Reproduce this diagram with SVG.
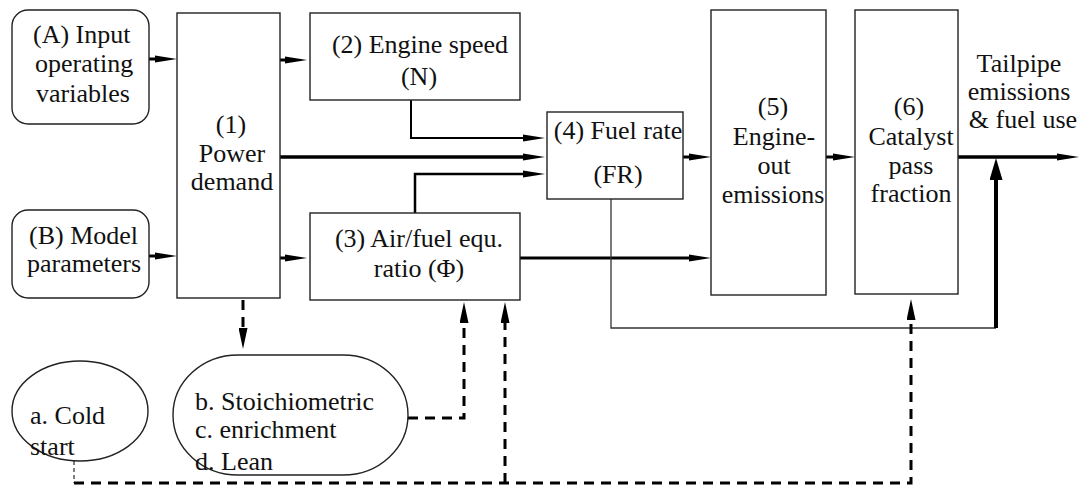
<svg xmlns="http://www.w3.org/2000/svg" width="1079" height="485" viewBox="0 0 1079 485">
<defs>
  <marker id="h" viewBox="0 0 22 8" markerWidth="22" markerHeight="8" refX="6" refY="4" markerUnits="userSpaceOnUse" orient="auto">
    <path d="M0,0.5 L22,4 L0,7.5 Z" fill="#000"/>
  </marker>
  <marker id="v" viewBox="0 0 21 9" markerWidth="21" markerHeight="9" refX="6" refY="4.5" markerUnits="userSpaceOnUse" orient="auto">
    <path d="M0,0 L21,4.5 L0,9 Z" fill="#000"/>
  </marker>
  <marker id="w" viewBox="0 0 22 13" markerWidth="22" markerHeight="13" refX="6" refY="6.5" markerUnits="userSpaceOnUse" orient="auto">
    <path d="M0,0 L22,6.5 L0,13 Z" fill="#000"/>
  </marker>
</defs>

<g id="connectors" fill="none" stroke="#000">
  <path stroke-width="3" d="M149,59 H161" marker-end="url(#h)"/>
  <path stroke-width="3" d="M280,60 H291" marker-end="url(#h)"/>
  <path stroke-width="3" d="M149,256 H161" marker-end="url(#h)"/>
  <path stroke-width="3" d="M280,258 H291" marker-end="url(#h)"/>
  <path stroke-width="2" d="M411,100 V138 H529" marker-end="url(#h)"/>
  <path stroke-width="3.5" d="M280,157 H529" marker-end="url(#h)"/>
  <path stroke-width="2.5" d="M415,213 V174 H529" marker-end="url(#h)"/>
  <path stroke-width="3" d="M683,157 H695" marker-end="url(#h)"/>
  <path stroke-width="3" d="M826,157 H839" marker-end="url(#h)"/>
  <path stroke-width="3.5" d="M958,157 H1063" marker-end="url(#h)"/>
  <path stroke-width="3" d="M520,258 H695" marker-end="url(#h)"/>
  <path stroke-width="1.3" stroke="#333" d="M611,199 V328 H996"/>
  <path stroke-width="4" d="M996,328 V174" marker-end="url(#w)"/>
  <g stroke-width="3" stroke-dasharray="10 7">
    <path d="M243,300 V334" marker-end="url(#v)"/>
    <path d="M408,418 H464 V317" marker-end="url(#v)"/>
    <path d="M74,483 H911 V314" marker-end="url(#v)"/>
    <path d="M505,483 V317" marker-end="url(#v)"/>
  </g>
  <path stroke-width="1" stroke-dasharray="4 3" d="M74,461 V483"/>
</g>

<g id="nodeA">
  <rect fill="#fff" stroke="#222" stroke-width="1.4" x="12" y="10" width="137" height="114" rx="16"/>
  <text font-family="Times New Roman" font-size="26" fill="#111" x="33" y="43">(A)  Input</text>
  <text font-family="Times New Roman" font-size="26" fill="#111" x="35" y="72">operating</text>
  <text font-family="Times New Roman" font-size="26" fill="#111" x="36" y="102">variables</text>
</g>
<g id="nodeB">
  <rect fill="#fff" stroke="#222" stroke-width="1.4" x="12" y="210" width="137" height="88" rx="16"/>
  <text font-family="Times New Roman" font-size="26" fill="#111" x="29" y="244">(B) Model</text>
  <text font-family="Times New Roman" font-size="26" fill="#111" x="27" y="272">parameters</text>
</g>
<g id="node1">
  <rect fill="#fff" stroke="#222" stroke-width="1.4" x="177" y="13" width="103" height="285"/>
  <text font-family="Times New Roman" font-size="26" fill="#111" text-anchor="middle" x="231" y="133">(1)</text>
  <text font-family="Times New Roman" font-size="26" fill="#111" text-anchor="middle" x="232" y="162">Power</text>
  <text font-family="Times New Roman" font-size="26" fill="#111" text-anchor="middle" x="232" y="190">demand</text>
</g>
<g id="node2">
  <rect fill="#fff" stroke="#222" stroke-width="1.4" x="310" y="13" width="210" height="87"/>
  <text font-family="Times New Roman" font-size="26" fill="#111" text-anchor="middle" x="420" y="53">(2) Engine speed</text>
  <text font-family="Times New Roman" font-size="26" fill="#111" text-anchor="middle" x="419" y="85">(N)</text>
</g>
<g id="node3">
  <rect fill="#fff" stroke="#222" stroke-width="1.4" x="310" y="213" width="210" height="87"/>
  <text font-family="Times New Roman" font-size="26" fill="#111" text-anchor="middle" x="419" y="247">(3) Air/fuel equ.</text>
  <text font-family="Times New Roman" font-size="26" fill="#111" text-anchor="middle" x="419" y="277">ratio (Φ)</text>
</g>
<g id="node4">
  <rect fill="#fff" stroke="#222" stroke-width="1.4" x="547" y="112" width="136" height="87"/>
  <text font-family="Times New Roman" font-size="26" fill="#111" text-anchor="middle" x="618" y="139">(4) Fuel rate</text>
  <text font-family="Times New Roman" font-size="26" fill="#111" text-anchor="middle" x="618" y="183">(FR)</text>
</g>
<g id="node5">
  <rect fill="#fff" stroke="#222" stroke-width="1.4" x="711" y="10" width="115" height="285"/>
  <text font-family="Times New Roman" font-size="26" fill="#111" text-anchor="middle" x="773" y="115">(5)</text>
  <text font-family="Times New Roman" font-size="26" fill="#111" text-anchor="middle" x="774" y="145">Engine-</text>
  <text font-family="Times New Roman" font-size="26" fill="#111" text-anchor="middle" x="774" y="174">out</text>
  <text font-family="Times New Roman" font-size="26" fill="#111" text-anchor="middle" x="773" y="203">emissions</text>
</g>
<g id="node6">
  <rect fill="#fff" stroke="#222" stroke-width="1.4" x="855" y="10" width="103" height="284"/>
  <text font-family="Times New Roman" font-size="26" fill="#111" text-anchor="middle" x="909" y="115">(6)</text>
  <text font-family="Times New Roman" font-size="26" fill="#111" text-anchor="middle" x="911" y="145">Catalyst</text>
  <text font-family="Times New Roman" font-size="26" fill="#111" text-anchor="middle" x="911" y="174">pass</text>
  <text font-family="Times New Roman" font-size="26" fill="#111" text-anchor="middle" x="911" y="202">fraction</text>
</g>
<g id="output">
  <text font-family="Times New Roman" font-size="26" fill="#111" text-anchor="middle" x="1019" y="72">Tailpipe</text>
  <text font-family="Times New Roman" font-size="26" fill="#111" text-anchor="middle" x="1019" y="100">emissions</text>
  <text font-family="Times New Roman" font-size="26" fill="#111" text-anchor="middle" x="1023" y="128">&amp; fuel use</text>
</g>
<g id="nodeCold">
  <ellipse fill="#fff" stroke="#222" stroke-width="1.4" cx="80" cy="411" rx="68" ry="50"/>
  <text font-family="Times New Roman" font-size="26" fill="#111" x="30" y="424">a. Cold</text>
  <text font-family="Times New Roman" font-size="26" fill="#111" x="30" y="455">start</text>
</g>
<g id="nodeModes">
  <rect fill="#fff" stroke="#222" stroke-width="1.4" x="173" y="355" width="235" height="120" rx="65" ry="60"/>
  <text font-family="Times New Roman" font-size="26" fill="#111" x="195" y="410">b. Stoichiometric</text>
  <text font-family="Times New Roman" font-size="26" fill="#111" x="195" y="438">c. enrichment</text>
  <text font-family="Times New Roman" font-size="26" fill="#111" x="195" y="470">d. Lean</text>
</g>
</svg>
